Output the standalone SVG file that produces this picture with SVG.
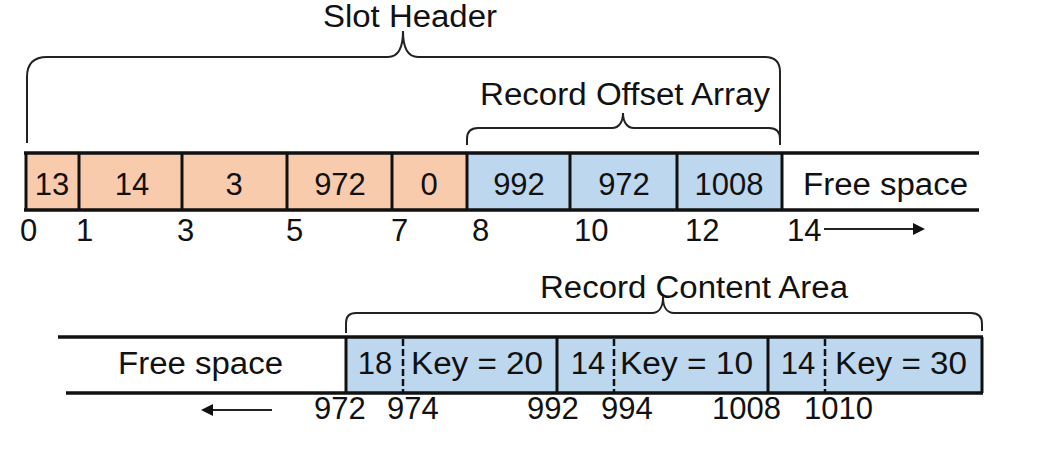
<svg xmlns="http://www.w3.org/2000/svg" width="1051" height="462" viewBox="0 0 1051 462">
<style>
text{font-family:"Liberation Sans",Arial,sans-serif;font-size:31px;fill:#111}
.m{text-anchor:middle}
.or{fill:#F8CBAD}
.bl{fill:#BDD7EE}
.ln{stroke:#111;stroke-width:3.5;fill:none}
.dv{stroke:#111;stroke-width:3;fill:none}
.ds{stroke:#111;stroke-width:2.5;stroke-dasharray:7 3;fill:none}
.br{stroke:#222;stroke-width:2;fill:none}
.ar{stroke:#222;stroke-width:2;fill:none}
</style>
<defs>
<marker id="ah" markerWidth="12" markerHeight="12" refX="10" refY="6" orient="auto" markerUnits="userSpaceOnUse" viewBox="0 0 12 12">
<path d="M0,0 L12,6 L0,12 Z" fill="#111"/>
</marker>
</defs>
<rect width="1051" height="462" fill="#fff"/>

<!-- Top row -->
<g id="top-row">
<rect class="or" x="26" y="153" width="441" height="57"/>
<rect class="bl" x="467" y="153" width="315" height="57"/>
<g id="cell-13"><text class="m" x="52" y="195">13</text></g>
<g id="cell-14"><text class="m" x="132" y="195">14</text></g>
<g id="cell-3"><text class="m" x="234" y="195">3</text></g>
<g id="cell-972a"><text class="m" x="340" y="195">972</text></g>
<g id="cell-0"><text class="m" x="429" y="195">0</text></g>
<g id="cell-992"><text class="m" x="519" y="195">992</text></g>
<g id="cell-972b"><text class="m" x="624" y="195">972</text></g>
<g id="cell-1008"><text class="m" x="729" y="195">1008</text></g>
<g id="free-top"><text x="803" y="195" textLength="165" lengthAdjust="spacingAndGlyphs">Free space</text></g>
<line class="ln" x1="24" y1="153" x2="979" y2="153"/>
<line class="ln" x1="24" y1="210" x2="979" y2="210"/>
<line class="dv" x1="26" y1="153" x2="26" y2="210"/>
<line class="dv" x1="79" y1="153" x2="79" y2="210"/>
<line class="dv" x1="182" y1="153" x2="182" y2="210"/>
<line class="dv" x1="287" y1="153" x2="287" y2="210"/>
<line class="dv" x1="392" y1="153" x2="392" y2="210"/>
<line class="dv" x1="467" y1="153" x2="467" y2="210"/>
<line class="dv" x1="570" y1="153" x2="570" y2="210"/>
<line class="dv" x1="677" y1="153" x2="677" y2="210"/>
<line class="dv" x1="782" y1="153" x2="782" y2="210"/>
</g>
<g id="top-index">
<text x="20" y="241">0</text>
<text x="76" y="241">1</text>
<text x="177" y="241">3</text>
<text x="286" y="241">5</text>
<text x="391" y="241">7</text>
<text x="472" y="241">8</text>
<text x="574" y="241">10</text>
<text x="685" y="241">12</text>
<text x="787" y="241">14</text>
</g>

<!-- Bottom row -->
<g id="bottom-row">
<rect class="bl" x="346" y="337" width="636" height="56"/>
<g id="free-bottom"><text x="118" y="374" textLength="165" lengthAdjust="spacingAndGlyphs">Free space</text></g>
<g id="rec-1"><text class="m" x="375" y="374">18</text><text x="411" y="374" textLength="132" lengthAdjust="spacingAndGlyphs">Key = 20</text></g>
<g id="rec-2"><text class="m" x="588" y="374">14</text><text x="620" y="374" textLength="133" lengthAdjust="spacingAndGlyphs">Key = 10</text></g>
<g id="rec-3"><text class="m" x="798" y="374">14</text><text x="835" y="374" textLength="132" lengthAdjust="spacingAndGlyphs">Key = 30</text></g>
<line class="ln" x1="58" y1="337" x2="983" y2="337"/>
<line class="ln" x1="66" y1="393" x2="983" y2="393"/>
<line class="dv" x1="346" y1="337" x2="346" y2="393"/>
<line class="dv" x1="557" y1="337" x2="557" y2="393"/>
<line class="dv" x1="768" y1="337" x2="768" y2="393"/>
<line class="dv" x1="982" y1="337" x2="982" y2="393"/>
<line class="ds" x1="403" y1="339" x2="403" y2="392"/>
<line class="ds" x1="614" y1="339" x2="614" y2="392"/>
<line class="ds" x1="825" y1="339" x2="825" y2="392"/>
</g>
<g id="bottom-index">
<text x="314" y="419">972</text>
<text x="387" y="419">974</text>
<text x="527" y="419">992</text>
<text x="601" y="419">994</text>
<text x="712" y="419">1008</text>
<text x="804" y="419">1010</text>
</g>

<!-- Braces and labels -->
<g id="slot-header">
<text x="323" y="27" textLength="174" lengthAdjust="spacingAndGlyphs">Slot Header</text>
<path class="br" d="M27,143 L27,77 Q27,57 47,57 L388,57 C398,57 403,48 403,31 C403,48 408,57 418,57 L765,57 Q780,57 780,72 L780,145"/>
</g>
<g id="record-offset-array">
<text x="480" y="105" textLength="290" lengthAdjust="spacingAndGlyphs">Record Offset Array</text>
<path class="br" d="M467,145 L467,139 Q467,128 478,128 L612,128 C619,128 623,122 623,113 C623,122 627,128 634,128 L769,128 Q780,128 780,139"/>
</g>
<g id="record-content-area">
<text x="540" y="298" textLength="308" lengthAdjust="spacingAndGlyphs">Record Content Area</text>
<path class="br" d="M346,333 L346,323 Q346,313 356,313 L652,313 C659,313 663,307 663,297 C663,307 667,313 674,313 L971,313 Q982,313 982,324 L982,331"/>
</g>

<!-- Connectors -->
<g id="connectors">
<line class="ar" x1="824" y1="229" x2="923" y2="229" marker-end="url(#ah)"/>
<line class="ar" x1="272" y1="410" x2="203" y2="410" marker-end="url(#ah)"/>
</g>
</svg>
